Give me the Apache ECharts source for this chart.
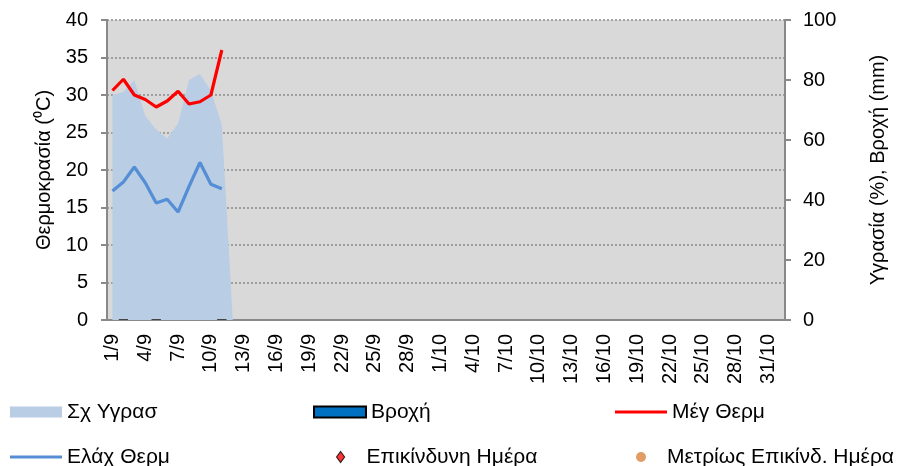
<!DOCTYPE html>
<html><head><meta charset="utf-8">
<script src="https://cdn.jsdelivr.net/npm/echarts@6/dist/echarts.min.js"></script>
<style>html,body{margin:0;padding:0;background:#fff}#c{width:906px;height:466px}</style>
</head><body><div id="c"></div>
<script>
const categories = [
 '1/9','2/9','3/9','4/9','5/9','6/9','7/9','8/9','9/9','10/9','11/9','12/9','13/9','14/9','15/9',
 '16/9','17/9','18/9','19/9','20/9','21/9','22/9','23/9','24/9','25/9','26/9','27/9','28/9','29/9','30/9',
 '1/10','2/10','3/10','4/10','5/10','6/10','7/10','8/10','9/10','10/10','11/10','12/10','13/10','14/10','15/10',
 '16/10','17/10','18/10','19/10','20/10','21/10','22/10','23/10','24/10','25/10','26/10','27/10','28/10','29/10','30/10',
 '31/10','1/11'
];
const humidity = [75, 76, 80, 68, 63.5, 60.5, 65.5, 80, 82, 76.5, 65, 0];
const rain = [null, 0, null, null, 0, null, null, null, null, null, 0];
const maxTemp = [30.6, 32.1, 30.0, 29.4, 28.4, 29.2, 30.5, 28.8, 29.1, 30.0, 36.0];
const minTemp = [17.2, 18.4, 20.4, 18.3, 15.6, 16.1, 14.4, 17.8, 21.0, 18.1, 17.5];
const dangerDays = [];
const moderateDays = [];
const seriesNames = ['Σχ Υγρασ', 'Βροχή', 'Μέγ Θερμ', 'Ελάχ Θερμ', 'Επικίνδυνη Ημέρα', 'Μετρίως Επικίνδ. Ημέρα'];

const FONT = 'Liberation Sans, Arial, sans-serif';
const AX = '#898989';
const chart = echarts.init(document.getElementById('c'), null, {renderer: 'canvas'});

function leg(name, left, top, w, h, icon, itemStyle, padLeft) {
  return {
    left: left, top: top, orient: 'horizontal', padding: 0,
    itemWidth: w, itemHeight: h, itemGap: 0,
    data: [{name: name, icon: icon, itemStyle: itemStyle}],
    textStyle: {fontFamily: FONT, fontSize: 21, color: '#000', lineHeight: 22, padding: [0, 0, 0, padLeft || 0]},
    selectedMode: false
  };
}

const option = {
  animation: false,
  textStyle: {fontFamily: FONT},
  grid: {left: 107, right: 121, top: 20, bottom: 146, show: true, backgroundColor: '#d9d9d9', borderWidth: 0, containLabel: false},
  legend: [
    leg(seriesNames[0], 10, 401, 52, 11, 'rect', {color: '#b9cde5', borderWidth: 0}),
    leg(seriesNames[1], 313, 401, 52, 11, 'rect', {color: '#0070c0', borderColor: '#000', borderWidth: 2}),
    leg(seriesNames[2], 615, 401, 52, 3, 'rect', {color: '#ff0000', borderWidth: 0}),
    leg(seriesNames[3], 10, 446, 52, 3, 'rect', {color: '#558ed5', borderWidth: 0}),
    leg(seriesNames[4], 336, 446, 8, 11, 'diamond', {color: '#ff0000', borderColor: '#000', borderWidth: 1.2}, 17),
    leg(seriesNames[5], 636, 446, 10, 10, 'circle', {color: '#d9853f', borderWidth: 0}, 16)
  ],
  xAxis: {
    type: 'category', data: categories, boundaryGap: true,
    axisLine: {lineStyle: {color: AX, width: 2}},
    axisTick: {interval: 2, length: 6, lineStyle: {color: AX, width: 2}},
    axisLabel: {interval: 2, rotate: 90, margin: 14, fontSize: 20, color: '#000', fontFamily: FONT},
    splitLine: {show: false}
  },
  yAxis: [
    {
      type: 'value', min: 0, max: 40, interval: 5, position: 'left',
      name: 'Θερμοκρασία (⁰C)', nameLocation: 'middle', nameGap: 52, nameRotate: 90,
      nameTextStyle: {fontSize: 20, color: '#000', fontFamily: FONT},
      axisLine: {show: true, lineStyle: {color: AX, width: 2}},
      axisTick: {show: true, length: 6, lineStyle: {color: AX, width: 2}},
      axisLabel: {margin: 19, fontSize: 20, color: '#000', fontFamily: FONT},
      splitLine: {show: true, lineStyle: {color: '#8a8a8a', width: 1.5, type: [2, 2]}}
    },
    {
      type: 'value', min: 0, max: 100, interval: 20, position: 'right',
      name: 'Υγρασία (%), Βροχή (mm)', nameLocation: 'middle', nameGap: 83, nameRotate: 90,
      nameTextStyle: {fontSize: 20, color: '#000', fontFamily: FONT},
      axisLine: {show: true, lineStyle: {color: AX, width: 2}},
      axisTick: {show: true, length: 6, lineStyle: {color: AX, width: 2}},
      axisLabel: {margin: 18, fontSize: 20, color: '#000', fontFamily: FONT},
      splitLine: {show: false}
    }
  ],
  series: [
    {name: seriesNames[0], type: 'line', yAxisIndex: 1, data: humidity, showSymbol: false, symbol: 'none',
     lineStyle: {width: 0, color: '#b9cde5'}, itemStyle: {color: '#b9cde5'},
     areaStyle: {color: '#b9cde5', opacity: 1}, z: 1},
    {name: seriesNames[1], type: 'bar', yAxisIndex: 1, data: rain, barWidth: 10, barMinHeight: 1,
     itemStyle: {color: '#0070c0', borderColor: '#444', borderWidth: 1}, z: 2},
    {name: seriesNames[2], type: 'line', yAxisIndex: 0, data: maxTemp, showSymbol: false, symbol: 'none',
     lineStyle: {width: 3.2, color: '#ff0000'}, itemStyle: {color: '#ff0000'}, z: 4},
    {name: seriesNames[3], type: 'line', yAxisIndex: 0, data: minTemp, showSymbol: false, symbol: 'none',
     lineStyle: {width: 3.2, color: '#558ed5'}, itemStyle: {color: '#558ed5'}, z: 3},
    {name: seriesNames[4], type: 'scatter', yAxisIndex: 0, data: dangerDays, symbol: 'diamond', symbolSize: [8, 11],
     itemStyle: {color: '#ff0000', borderColor: '#000', borderWidth: 1}, z: 5},
    {name: seriesNames[5], type: 'scatter', yAxisIndex: 0, data: moderateDays, symbol: 'circle', symbolSize: 10,
     itemStyle: {color: '#d9853f'}, z: 5}
  ]
};
chart.setOption(option);
</script>
</body></html>
